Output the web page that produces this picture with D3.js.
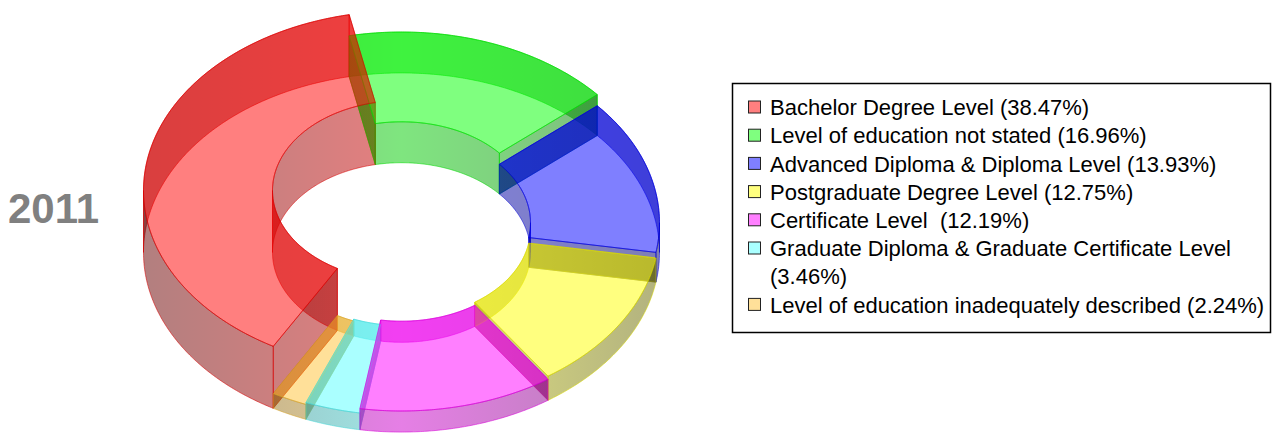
<!DOCTYPE html>
<html>
<head>
<meta charset="utf-8">
<script src="https://cdn.jsdelivr.net/npm/d3@7"></script>
<style>
body { margin: 0; background: #fff; }
svg { display: block; font-family: "Liberation Sans", Arial, sans-serif; }
</style>
</head>
<body>
<div id="chart"></div>
<script>
// data
var categories = ["Bachelor Degree Level", "Level of education not stated", "Advanced Diploma & Diploma Level",
  "Postgraduate Degree Level", "Certificate Level ", "Graduate Diploma & Graduate Certificate Level",
  "Level of education inadequately described"];
var percents = [38.47, 16.96, 13.93, 12.75, 12.19, 3.46, 2.24];
var depthValues = [100, 66, 48, 39, 34, 27, 24];   // relative slice height
var colors = ["#ff0000", "#00ff00", "#0000ff", "#ffff00", "#ff00ff", "#55ffff", "#ffc233"];
var title = "2011";

var width = 1274, height = 434;
var cx = 401.5, cy = 252.5, R = 258, tilt = 0.696, innerRatio = 0.5;
var startDeg = 209.8;

var svg = d3.select("#chart").append("svg")
  .attr("width", width)
  .attr("height", height);

var depth = d3.scaleLinear().domain([0, 100]).range([0, 62]);

var pie = d3.pie()
  .value(function(d) { return d; })
  .sort(null)
  .startAngle(startDeg * Math.PI / 180)
  .endAngle(startDeg * Math.PI / 180 + 2 * Math.PI);

var arcs = pie(percents);

function pt(a, r, h) {
  return [cx + r * Math.sin(a), cy - r * tilt * Math.cos(a) - h];
}
function arcPts(a0, a1, r, h) {
  var n = Math.max(2, Math.ceil(Math.abs(a1 - a0) / (Math.PI / 360)));
  var out = [];
  for (var k = 0; k <= n; k++) out.push(pt(a0 + (a1 - a0) * k / n, r, h));
  return out;
}
// split a range where the wall turns from back to front
function segments(a0, a1) {
  var cuts = [a0];
  var k = Math.ceil((a0 - Math.PI / 2) / Math.PI);
  while (Math.PI / 2 + k * Math.PI < a1) {
    var c = Math.PI / 2 + k * Math.PI;
    if (c > a0) cuts.push(c);
    k++;
  }
  cuts.push(a1);
  var segs = [];
  for (var i = 0; i < cuts.length - 1; i++) segs.push([cuts[i], cuts[i + 1]]);
  return segs;
}

var defs = svg.append("defs");
colors.forEach(function(c, i) {
  var g = defs.append("linearGradient")
    .attr("id", "wall" + i)
    .attr("gradientUnits", "userSpaceOnUse")
    .attr("x1", cx - R).attr("x2", cx + R)
    .attr("y1", 0).attr("y2", 0);
  var mix = d3.interpolateRgb(c, "#000");
  g.append("stop").attr("offset", 0).attr("stop-color", mix(0.6));
  g.append("stop").attr("offset", 0.5).attr("stop-color", mix(0.2));
  g.append("stop").attr("offset", 1).attr("stop-color", mix(0.6));
});

var faces = [];
arcs.forEach(function(d, i) {
  var h = depth(depthValues[i]);
  var a0 = d.startAngle, a1 = d.endAngle;
  segments(a0, a1).forEach(function(s) {
    var mid = (s[0] + s[1]) / 2;
    var back = Math.cos(mid) > 0;
    faces.push({ kind: back ? 0 : 5, i: i, near: -Math.cos(mid),
      pts: arcPts(s[0], s[1], R, h).concat(arcPts(s[1], s[0], R, 0)) });
    faces.push({ kind: back ? 1 : 3, i: i, near: -Math.cos(mid),
      pts: arcPts(s[0], s[1], R * innerRatio, h).concat(arcPts(s[1], s[0], R * innerRatio, 0)) });
  });
  [a0, a1].forEach(function(a) {
    faces.push({ kind: 2, i: i, near: -Math.cos(a),
      pts: [pt(a, R * innerRatio, 0), pt(a, R, 0), pt(a, R, h), pt(a, R * innerRatio, h)] });
  });
  faces.push({ kind: 4, i: i, near: -Math.cos((a0 + a1) / 2), top: true,
    pts: arcPts(a0, a1, R, h).concat(arcPts(a1, a0, R * innerRatio, h)) });
});

faces.sort(function(a, b) { return a.kind - b.kind || a.near - b.near; });

var line = d3.line().curve(d3.curveLinearClosed);

svg.append("g").attr("class", "donut")
  .selectAll("path")
  .data(faces)
  .enter()
  .append("path")
  .attr("d", function(f) { return line(f.pts); })
  .attr("fill", function(f) { return f.top ? colors[f.i] : "url(#wall" + f.i + ")"; })
  .attr("fill-opacity", 0.5)
  .attr("stroke", function(f) { return d3.interpolateRgb(colors[f.i], "#000")(0.15); })
  .attr("stroke-opacity", 0.55)
  .attr("stroke-width", 1)
  .attr("stroke-linejoin", "round");

svg.append("text")
  .attr("x", 8)
  .attr("y", 223)
  .style("font-size", "42px")
  .style("font-weight", "bold")
  .style("fill", "#808080")
  .text(title);

// legend
var lg = svg.append("g").attr("class", "legend");
lg.append("rect")
  .attr("x", 732.5).attr("y", 83.5)
  .attr("width", 538).attr("height", 249)
  .attr("fill", "#fff")
  .attr("stroke", "#000")
  .attr("stroke-width", 1.5);

var rowY = 107.5, rowH = 28.2, maxW = 505;
categories.forEach(function(name, i) {
  var label = name + " (" + percents[i].toFixed(2) + "%)";
  lg.append("rect")
    .attr("x", 748.5).attr("y", rowY - 6.5)
    .attr("width", 12).attr("height", 12)
    .attr("fill", colors[i]).attr("fill-opacity", 0.5)
    .attr("stroke", "#222").attr("stroke-width", 1);
  var t = lg.append("text")
    .attr("x", 770).attr("y", rowY)
    .attr("dy", "0.35em")
    .style("font-size", "22px")
    .style("white-space", "pre")
    .style("fill", "#000")
    .text(label);
  if (t.node().getComputedTextLength() > maxW) {
    var words = label.split(" ");
    var first = [];
    t.text("");
    var ln = t.append("tspan").attr("x", 770).attr("y", rowY).attr("dy", "0.35em");
    while (words.length) {
      first.push(words.shift());
      ln.text(first.join(" "));
      if (ln.node().getComputedTextLength() > maxW) {
        words.unshift(first.pop());
        ln.text(first.join(" "));
        break;
      }
    }
    rowY += rowH;
    t.append("tspan").attr("x", 770).attr("y", rowY).attr("dy", "0.35em").text(words.join(" "));
  }
  rowY += rowH;
});
</script>
</body>
</html>
